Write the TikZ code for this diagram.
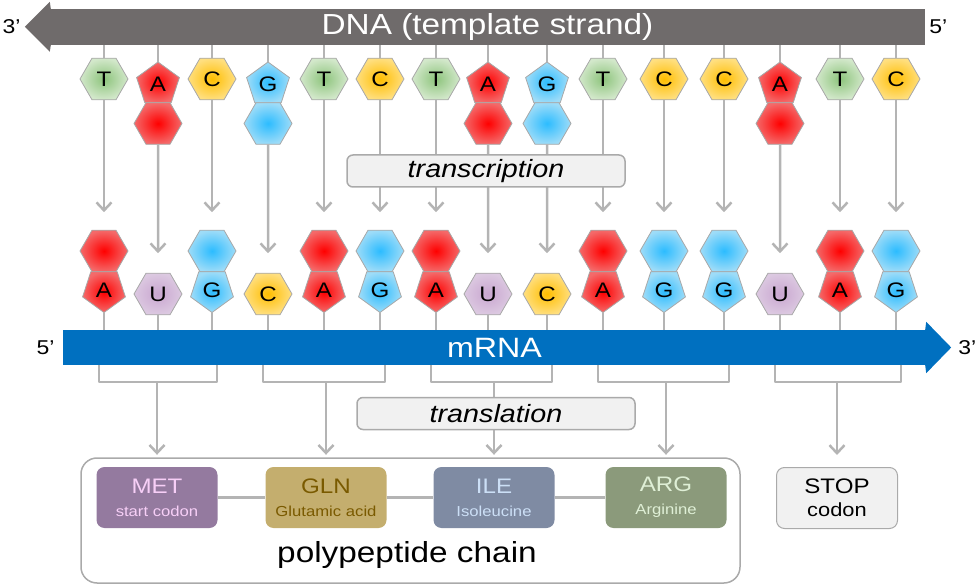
\documentclass[tikz,border=0pt]{standalone}
\usepackage{fontspec}
\setmainfont{Liberation Sans}[FakeStretch=1.15]
\usetikzlibrary{calc,positioning,arrows.meta,shapes.geometric}

\definecolor{dnagray}{HTML}{6F6B6B}
\definecolor{mrnablue}{HTML}{0070C0}
\definecolor{linkgray}{HTML}{B4B4B4}
\definecolor{basegray}{HTML}{A8A8A8}
\definecolor{boxgray}{HTML}{AAAAAA}
\definecolor{boxfill}{HTML}{F1F1F1}
\definecolor{inA}{HTML}{FF0000}
\definecolor{outA}{HTML}{F46A6A}
\definecolor{inG}{HTML}{2CBCFF}
\definecolor{outG}{HTML}{9EDCF8}
\definecolor{inC}{HTML}{FFBE00}
\definecolor{outC}{HTML}{FFDF80}
\definecolor{inT}{HTML}{8DC47C}
\definecolor{outT}{HTML}{D3E8CB}
\definecolor{inU}{HTML}{C9A6D0}
\definecolor{outU}{HTML}{DCC9E1}
\definecolor{metfill}{HTML}{947A9F}
\definecolor{mettext}{HTML}{F7CFF7}
\definecolor{glnfill}{HTML}{C4AE6E}
\definecolor{glntext}{HTML}{7A5A00}
\definecolor{ilefill}{HTML}{7F8BA3}
\definecolor{iletext}{HTML}{CCDFF6}
\definecolor{argfill}{HTML}{8B9A7B}
\definecolor{argtext}{HTML}{DFEFD6}

\newcommand\subfont{\fontsize{14.5}{16}\selectfont}

\begin{document}
\begin{tikzpicture}[x=1pt,y=-1pt,>={Straight Barb[length=8pt,width=15pt]}]
  \tikzset{
    link/.style={draw=linkgray,line width=2.5pt,line join=round},
    hexa/.style={regular polygon,regular polygon sides=6,minimum size=48pt,
      inner sep=0pt,outer sep=0pt,draw=basegray,line width=0.8pt},
    penta/.style={regular polygon,regular polygon sides=5,minimum size=45pt,
      inner sep=0pt,outer sep=0pt,draw=basegray,line width=0.8pt},
    nuc/.style={inner color=in#1,outer color=out#1,font=\fontsize{21}{21}\selectfont},
    amino/.style={rounded corners=8pt,minimum width=121pt,minimum height=61pt,
      inner sep=0pt,align=center,font=\fontsize{21}{23}\selectfont},
    tagbox/.style={draw=boxgray,fill=boxfill,line width=1.5pt,rounded corners=6pt,
      minimum width=278pt,minimum height=32pt,font=\itshape\fontsize{25}{25}\selectfont},
    endlbl/.style={inner sep=0pt,font=\fontsize{20}{20}\selectfont},
    % every node/.style={draw=red}
  }
\useasboundingbox (0,0) rectangle (975,585);

% strands
\node[fill=dnagray,minimum width=875pt,minimum height=36pt,inner sep=0pt,
  text=white,font=\fontsize{29}{29}\selectfont] (dna) at (487.5,27) {DNA (template strand)};
\fill[dnagray] ([xshift=1pt]dna.north west) -- ++(-1,-7) -- ++(-25,25) coordinate (dnatip)
  -- ++(25,25) -- ([xshift=1pt]dna.south west) -- cycle;

\node[fill=mrnablue,minimum width=863pt,minimum height=35pt,inner sep=0pt,
  text=white,font=\fontsize{28}{28}\selectfont] (mrna) at (494.5,347.5) {mRNA};
\coordinate (mrnatip) at ($(mrna.east)+(25,0)$);
\fill[mrnablue] ([xshift=-1pt]mrna.north east) -- ++(1,-8) -- (mrnatip)
  -- ($(mrna.south east)+(0,8)$) -- ([xshift=-1pt]mrna.south east) -- cycle;

\node[endlbl,left=4pt of dnatip] (dna3) {3’};
\node[endlbl,right=4pt of dna.east] (dna5) {5’};
\node[endlbl,left=8pt of mrna.west] (mrna5) {5’};
\node[endlbl,right=7pt of mrnatip] (mrna3) {3’};

% T/C on the template, A/G in the mRNA
\foreach \i/\x/\dn/\rn in {1/104/T/A,3/212/C/G,5/324/T/A,6/380/C/G,7/436/T/A,
  10/603/T/A,11/664/C/G,12/724/C/G,14/840/T/A,15/896/C/G}{
  \node[hexa,nuc=\dn,alias=db\i] (d\i) at (\x,79) {\dn};
  \node[hexa,nuc=\rn] (m\i) at (\x,251) {};
  \node[penta,nuc=\rn,shape border rotate=180,below=0pt of m\i] (mb\i) {\rn};
  \draw[link] (d\i.north) -- (d\i.north |- dna.south);
  \draw[link,->] (db\i.south) -- ($(m\i.north)+(0,-18)$);
  \draw[link] (mb\i.south) -- (mb\i.south |- mrna.north);
}

% A/G on the template, U/C in the mRNA
\foreach \i/\x/\dn/\rn in {2/158/A/U,4/268/G/C,8/488/A/U,9/547/G/C,13/780/A/U}{
  \node[penta,nuc=\dn] (d\i) at (\x,84.5) {\dn};
  \node[hexa,nuc=\dn,below=0pt of d\i] (db\i) {};
  \node[hexa,nuc=\rn,alias=mb\i] (m\i) at (\x,294) {\rn};
  \draw[link] (d\i.north) -- (d\i.north |- dna.south);
  \draw[link,->] (db\i.south) -- ($(m\i.north)+(0,-20)$);
  \draw[link] (mb\i.south) -- (mb\i.south |- mrna.north);
}

\node[tagbox] (transcr) at (486,171) {transcription};

% protein
\node[draw=boxgray,line width=1.5pt,rounded corners=16pt,minimum width=659pt,
  minimum height=125pt] (chain) at (410.5,520.5) {};
\node[font=\fontsize{29}{29}\selectfont] (chainlbl) at (407,555) {polypeptide chain};

\node[amino,fill=metfill,text=mettext] (met) at (157,497.5) {MET\\{\subfont start codon}};
\node[amino,fill=glnfill,text=glntext] (gln) at (326,497.5) {GLN\\{\subfont Glutamic acid}};
\node[amino,fill=ilefill,text=iletext] (ile) at (494,497.5) {ILE\\{\subfont Isoleucine}};
\node[amino,fill=argfill,text=argtext] (arg) at (666,497.5) {ARG\\{\subfont Arginine}};
\node[amino,draw=boxgray,line width=1pt,fill=boxfill] (stop) at (837,498)
  {STOP\\{\fontsize{19}{20}\selectfont codon}};
\draw[link] (met) -- (gln) -- (ile) -- (arg);

\foreach \a/\b/\aa in {1/3/met,4/6/gln,7/9/ile,10/12/arg,13/15/stop}{
  \draw[link] ($(mb\a.south |- mrna.south)+(-5,0)$) -- ++(0,17) coordinate (brk\a)
    -| ($(mb\b.south |- mrna.south)+(5,0)$);
  \draw[link,->] (\aa.north |- brk\a) -- ($(\aa.north)+(0,-12)$);
}

\node[tagbox] (transl) at (496,413.5) {translation};

\end{tikzpicture}
\end{document}
